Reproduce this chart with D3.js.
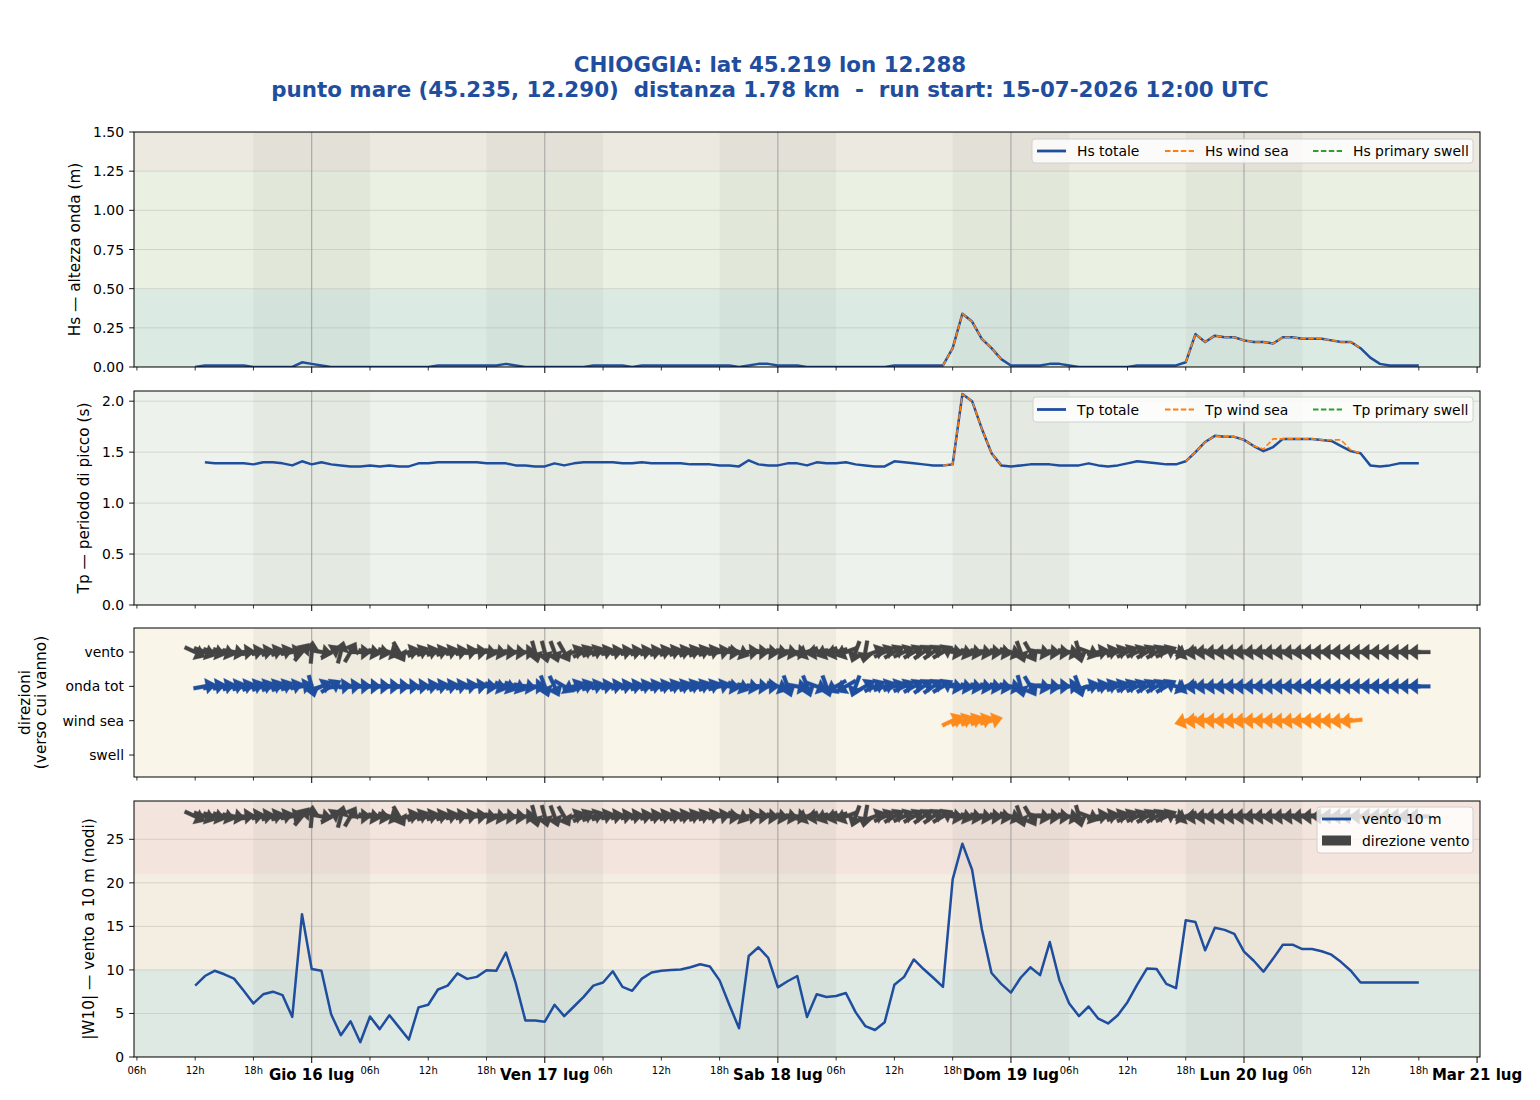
<!DOCTYPE html>
<html><head><meta charset="utf-8">
<script src="https://cdn.jsdelivr.net/npm/d3@7"></script>
<style>
body{margin:0;background:#fff}
svg{display:block}
text{font-family:"DejaVu Sans",sans-serif}
</style>
</head><body>
<svg id="chart" width="1540" height="1100"></svg>
<script>
// ---------------- DATA ----------------
const runStart = "2026-07-15T12:00:00Z";   // hourly series, index = hours since run start
const titleLines = ["CHIOGGIA: lat 45.219 lon 12.288",
  "punto mare (45.235, 12.290)  distanza 1.78 km  -  run start: 15-07-2026 12:00 UTC"];

const hsTot = [
 0.00,0.01,0.01,0.01,0.01,0.01,0.00,0.00,0.00,0.00,
 0.00,0.03,0.02,0.01,0.00,0.00,0.00,0.00,0.00,0.00,
 0.00,0.00,0.00,0.00,0.00,0.01,0.01,0.01,0.01,0.01,
 0.01,0.01,0.02,0.01,0.00,0.00,0.00,0.00,0.00,0.00,
 0.00,0.01,0.01,0.01,0.01,0.00,0.01,0.01,0.01,0.01,
 0.01,0.01,0.01,0.01,0.01,0.01,0.00,0.01,0.02,0.02,
 0.01,0.01,0.01,0.00,0.00,0.00,0.00,0.00,0.00,0.00,
 0.00,0.00,0.01,0.01,0.01,0.01,0.01,0.01,0.12,0.34,
 0.29,0.18,0.12,0.05,0.01,0.01,0.01,0.01,0.02,0.02,
 0.01,0.00,0.00,0.00,0.00,0.00,0.00,0.01,0.01,0.01,
 0.01,0.01,0.03,0.21,0.16,0.20,0.19,0.19,0.17,0.16,
 0.16,0.15,0.19,0.19,0.18,0.18,0.18,0.17,0.16,0.16,
 0.12,0.06,0.02,0.01,0.01,0.01,0.01];

const tpTot = [
 null,1.40,1.39,1.39,1.39,1.39,1.38,1.40,1.40,1.39,
 1.37,1.41,1.38,1.40,1.38,1.37,1.36,1.36,1.37,1.36,
 1.37,1.36,1.36,1.39,1.39,1.40,1.40,1.40,1.40,1.40,
 1.39,1.39,1.39,1.37,1.37,1.36,1.36,1.39,1.37,1.39,
 1.40,1.40,1.40,1.40,1.39,1.39,1.40,1.39,1.39,1.39,
 1.39,1.38,1.38,1.38,1.37,1.37,1.36,1.42,1.38,1.37,
 1.37,1.39,1.39,1.37,1.40,1.39,1.39,1.40,1.38,1.37,
 1.36,1.36,1.41,1.40,1.39,1.38,1.37,1.37,1.38,2.07,
 2.00,1.73,1.49,1.37,1.36,1.37,1.38,1.38,1.38,1.37,
 1.37,1.37,1.39,1.37,1.36,1.37,1.39,1.41,1.40,1.39,
 1.38,1.38,1.41,1.50,1.60,1.66,1.65,1.65,1.62,1.56,
 1.51,1.55,1.63,1.63,1.63,1.63,1.62,1.61,1.56,1.51,
 1.49,1.37,1.36,1.37,1.39,1.39,1.39];

// wind-sea component (only hours where present)
const wsHours   = [77,78,79,80,81,82,83,
  102,103,104,105,106,107,108,109,110,111,112,113,114,115,116,117,118,119,120];
const hsWindSea = [0.01,0.12,0.34,0.29,0.18,0.12,0.05,
  0.03,0.21,0.16,0.20,0.19,0.19,0.17,0.16,0.16,0.15,0.19,0.19,0.18,0.18,0.18,0.17,0.16,0.16,0.12];
const tpWindSea = [1.37,1.38,2.07,2.00,1.73,1.49,1.37,
  1.41,1.50,1.60,1.66,1.65,1.65,1.62,1.56,1.53,1.63,1.63,1.63,1.63,1.63,1.62,1.62,1.62,1.52,1.49];
const dirWindSea = [null,65,68,70,72,75,null,
  255,265,268,270,268,265,265,268,270,270,268,265,265,268,270,268,265,265,null];
// primary swell: no data in this run
const hsSwell = [];
const tpSwell = [];

// wind speed 10 m (knots)
const wind10 = [
 8.2,9.3,9.9,9.5,9.0,7.6,6.15,7.2,7.5,7.1,
 4.6,16.4,10.1,9.9,4.9,2.5,4.1,1.7,4.65,3.2,
 4.8,3.4,2.0,5.7,6.0,7.75,8.2,9.6,8.97,9.2,
 9.96,9.9,12.0,8.5,4.2,4.2,4.05,6.0,4.7,5.8,
 6.9,8.2,8.55,9.85,8.05,7.6,9.0,9.7,9.9,10.0,
 10.04,10.3,10.65,10.4,8.8,6.0,3.3,11.6,12.6,11.4,
 8.0,8.7,9.3,4.6,7.2,6.9,7.0,7.35,5.15,3.55,
 3.1,4.0,8.3,9.2,11.2,10.1,9.1,8.05,20.4,24.5,
 21.5,14.7,9.65,8.4,7.4,9.1,10.3,9.4,13.2,8.8,
 6.15,4.7,5.8,4.4,3.85,4.8,6.3,8.3,10.15,10.1,
 8.4,7.9,15.7,15.5,12.25,14.85,14.6,14.15,12.1,11.05,
 9.8,11.3,12.9,12.9,12.4,12.4,12.15,11.75,10.9,9.9,
 8.55,8.55,8.55,8.55,8.55,8.55,8.55];

// directions "verso cui vanno" (degrees, 0 = N, 90 = E)
const dirWind = [
 115,110,105,105,100,85,80,80,75,75,
 80,40,5,100,60,15,30,90,100,100,
 105,150,75,70,75,75,75,80,80,85,
 100,100,95,95,90,165,165,160,150,70,
 65,70,75,80,80,80,78,78,75,75,
 75,72,72,75,80,95,110,85,90,95,
 100,100,95,250,260,250,255,250,200,190,
 70,65,60,65,60,55,55,60,100,105,
 100,100,95,100,105,160,150,100,95,95,
 100,165,110,80,75,70,65,65,60,60,
 65,100,250,262,265,265,265,265,265,265,
 265,265,265,265,265,268,270,270,270,270,
 270,270,270,270,270,270,270];
const dirWave = [
 null,80,80,78,75,75,72,72,70,70,
 75,80,165,65,60,85,85,88,90,90,
 90,90,88,85,80,78,78,78,80,82,
 95,105,110,110,100,90,160,155,120,70,
 70,75,80,80,78,78,75,75,75,72,
 72,70,70,72,75,100,110,100,95,90,
 110,160,100,160,110,160,240,240,200,60,
 65,70,70,65,60,55,55,60,100,100,
 100,100,100,100,100,165,150,100,95,90,
 85,160,75,75,70,70,65,65,60,60,
 60,110,250,265,265,265,265,268,268,268,
 268,268,268,268,268,270,270,270,270,270,
 270,270,270,270,270,270,270];

const dirRows = ["vento","onda tot","wind sea","swell"];
const nights = [["2026-07-15T18:00:00Z","2026-07-16T06:00:00Z"],["2026-07-16T18:00:00Z","2026-07-17T06:00:00Z"],
  ["2026-07-17T18:00:00Z","2026-07-18T06:00:00Z"],["2026-07-18T18:00:00Z","2026-07-19T06:00:00Z"],
  ["2026-07-19T18:00:00Z","2026-07-20T06:00:00Z"]];
const dayLabels = ["Gio 16 lug","Ven 17 lug","Sab 18 lug","Dom 19 lug","Lun 20 lug","Mar 21 lug"];
const dayTicks = ["2026-07-16","2026-07-17","2026-07-18","2026-07-19","2026-07-20","2026-07-21"];
const hourLabels = ["06h","12h","18h"];
const hsTicks = [0,0.25,0.5,0.75,1.0,1.25,1.5];
const tpTicks = [0,0.5,1.0,1.5,2.0];
const windTicks = [0,5,10,15,20,25];

// ---------------- DRAW ----------------
const BLUE="#1f4e9e", ORANGE="#ff7f0e", GREEN="#2ca02c", DARK="#444444", ORANGE_A="#ff8a1c";
const svg = d3.select("#chart");
const X0=134, X1=1480;
const x = d3.scaleUtc().domain([new Date("2026-07-15T05:42:00Z"), new Date("2026-07-21T00:18:00Z")]).range([X0,X1]);
const t0 = Date.parse(runStart);
const T = i => new Date(t0 + i*3600e3);

svg.append("g").selectAll("text").data(titleLines).join("text")
  .attr("x",770).attr("y",(d,i)=>71.5+i*25).attr("text-anchor","middle")
  .attr("font-size",21.4).attr("font-weight","bold").attr("fill",BLUE)
  .style("white-space","pre").text(d=>d);

const panels = [
  {top:132,bottom:367,dom:[0,1.5],ticks:hsTicks,fmt:d3.format(".2f"),
   bands:[[0,0.5,"#dbebe4"],[0.5,1.25,"#eaf0e2"],[1.25,1.5,"#ece9e0"]]},
  {top:391,bottom:605,dom:[0,2.1],ticks:tpTicks,fmt:d3.format(".1f"),
   bands:[[0,2.1,"#edf3ec"]]},
  {top:628,bottom:777,dom:[-0.64,3.70],ticks:[3,2,1,0],fmt:(d,i)=>dirRows[i],
   bands:[[-0.64,3.70,"#f9f5e8"]]},
  {top:801,bottom:1057,dom:[0,29.4],ticks:windTicks,fmt:d3.format("d"),
   bands:[[0,10,"#dee9e3"],[10,21,"#f4ede2"],[21,29.4,"#f3e4dd"]]}
];

const defs = svg.append("defs");
panels.forEach((p,pi)=>{
  p.y = d3.scaleLinear().domain(p.dom).range([p.bottom,p.top]);
  defs.append("clipPath").attr("id","clip"+pi).append("rect")
    .attr("x",X0).attr("y",p.top).attr("width",X1-X0).attr("height",p.bottom-p.top);
  p.g = svg.append("g");
  p.plot = p.g.append("g").attr("clip-path",`url(#clip${pi})`);
  p.plot.selectAll("rect.band").data(p.bands).join("rect").attr("class","band")
    .attr("x",X0).attr("width",X1-X0)
    .attr("y",d=>p.y(d[1])).attr("height",d=>p.y(d[0])-p.y(d[1])).attr("fill",d=>d[2]);
  p.plot.selectAll("rect.night").data(nights).join("rect").attr("class","night")
    .attr("x",d=>x(new Date(d[0]))).attr("width",d=>x(new Date(d[1]))-x(new Date(d[0])))
    .attr("y",p.top).attr("height",p.bottom-p.top).attr("fill","#7a7a6a").attr("opacity",0.075);
  if(pi!==2){
    p.plot.selectAll("line.hg").data(p.ticks).join("line")
      .attr("x1",X0).attr("x2",X1).attr("y1",d=>p.y(d)).attr("y2",d=>p.y(d))
      .attr("stroke","#b8b8b0").attr("stroke-width",0.8).attr("opacity",0.6);
  }
  p.plot.selectAll("line.day").data(dayTicks.slice(0,5)).join("line")
    .attr("x1",d=>x(new Date(d+"T00:00:00Z"))).attr("x2",d=>x(new Date(d+"T00:00:00Z")))
    .attr("y1",p.top).attr("y2",p.bottom).attr("stroke","#9a9a9a").attr("stroke-width",0.9);
});

function drawLine(p, arr, hours, color, width, dash){
  const pts = arr.map((v,i)=>({h: hours ? hours[i] : i, v}));
  const line = d3.line().x(d=>x(T(d.h))).y(d=>p.y(d.v));
  const segs=[]; let cur=[];
  pts.forEach(d=>{
    if(d.v==null){ if(cur.length) segs.push(cur); cur=[]; return; }
    if(cur.length && d.h!==cur[cur.length-1].h+1){ segs.push(cur); cur=[]; }
    cur.push(d);
  });
  if(cur.length) segs.push(cur);
  p.plot.selectAll(null).data(segs).join("path")
    .attr("d",s=>line(s)).attr("fill","none").attr("stroke",color).attr("stroke-width",width)
    .attr("stroke-dasharray",dash||null).attr("stroke-linejoin","round");
}

const P1=panels[0],P2=panels[1],P3=panels[2],P4=panels[3];
const DASH="5.5,2.4";
drawLine(P1,hsTot,null,BLUE,2.5);
drawLine(P1,hsWindSea,wsHours,ORANGE,1.6,DASH);
drawLine(P1,hsSwell,[],GREEN,1.6,DASH);
drawLine(P2,tpTot,null,BLUE,2.5);
drawLine(P2,tpWindSea,wsHours,ORANGE,1.6,DASH);
drawLine(P2,tpSwell,[],GREEN,1.6,DASH);
drawLine(P4,wind10,null,BLUE,2.5);

// quiver-like arrows (pivot middle)
const AL=23, SW=1.9, HL=10.5, HW=8;
const arrowPts = [[-AL/2,-SW],[AL/2-HL,-SW],[AL/2-HL,-HW],[AL/2,0],[AL/2-HL,HW],[AL/2-HL,SW],[-AL/2,SW]].map(q=>q.join(",")).join(" ");
function drawArrows(p, dirs, hours, yval, color){
  const data = dirs.map((d,i)=>({h: hours?hours[i]:i, d})).filter(o=>o.d!=null);
  p.plot.append("g").selectAll("polygon").data(data).join("polygon")
    .attr("points",arrowPts)
    .attr("transform",o=>`translate(${x(T(o.h))},${p.y(yval)}) rotate(${o.d-90})`)
    .attr("fill",color).attr("stroke",color).attr("stroke-width",0.3);
}
drawArrows(P3,dirWind,null,3,DARK);
drawArrows(P3,dirWave,null,2,BLUE);
drawArrows(P3,dirWindSea,wsHours,1,ORANGE_A);
drawArrows(P4,dirWind,null,29.4*0.94,DARK);

panels.forEach((p,pi)=>{
  const g=p.g;
  g.append("rect").attr("x",X0).attr("y",p.top).attr("width",X1-X0).attr("height",p.bottom-p.top)
    .attr("fill","none").attr("stroke","#000").attr("stroke-width",1);
  g.selectAll("line.yt").data(p.ticks).join("line")
    .attr("x1",X0-4.9).attr("x2",X0).attr("y1",d=>p.y(d)).attr("y2",d=>p.y(d)).attr("stroke","#000").attr("stroke-width",0.9);
  g.selectAll("text.yl").data(p.ticks).join("text")
    .attr("x",X0-10).attr("y",d=>p.y(d)).attr("dy","0.36em").attr("text-anchor","end")
    .attr("font-size",13.9).attr("fill","#000").text((d,i)=>p.fmt(d,i));
  const minor = d3.utcHour.every(6).range(x.domain()[0], x.domain()[1]).filter(t=>t.getUTCHours()!==0);
  const major = dayTicks.map(d=>new Date(d+"T00:00:00Z"));
  g.selectAll("line.xmi").data(minor).join("line")
    .attr("x1",d=>x(d)).attr("x2",d=>x(d)).attr("y1",p.bottom).attr("y2",p.bottom+3.5).attr("stroke","#000").attr("stroke-width",0.8);
  g.selectAll("line.xma").data(major).join("line")
    .attr("x1",d=>x(d)).attr("x2",d=>x(d)).attr("y1",p.bottom).attr("y2",p.bottom+6).attr("stroke","#000").attr("stroke-width",1);
  if(pi===3){
    g.selectAll("text.xmi").data(minor).join("text")
      .attr("x",d=>x(d)).attr("y",p.bottom+17).attr("text-anchor","middle").attr("font-size",10)
      .text(d=>hourLabels[d.getUTCHours()/6-1]);
    g.selectAll("text.xma").data(major).join("text")
      .attr("x",d=>x(d)).attr("y",p.bottom+22.5).attr("text-anchor","middle").attr("font-size",15)
      .attr("font-weight","bold").text((d,i)=>dayLabels[i]);
  }
});

function ylab(xx, yy, txt){
  svg.append("text").attr("transform",`translate(${xx},${yy}) rotate(-90)`).attr("text-anchor","middle")
    .attr("font-size",15.3).attr("fill","#000").text(txt);
}
ylab(80,(P1.top+P1.bottom)/2,"Hs — altezza onda (m)");
ylab(89,(P2.top+P2.bottom)/2,"Tp — periodo di picco (s)");
ylab(30,(P3.top+P3.bottom)/2,"direzioni");
ylab(46,(P3.top+P3.bottom)/2,"(verso cui vanno)");
ylab(94,(P4.top+P4.bottom)/2,"|W10| — vento a 10 m (nodi)");

function legendBox(x0,y0,w,h){
  svg.append("rect").attr("x",x0).attr("y",y0).attr("width",w).attr("height",h).attr("rx",3)
    .attr("fill","#fff").attr("fill-opacity",0.8).attr("stroke","#d0d0d0").attr("stroke-width",1);
}
function legendLine(x0,y0,color,width,dash,label){
  svg.append("line").attr("x1",x0).attr("x2",x0+29).attr("y1",y0).attr("y2",y0)
    .attr("stroke",color).attr("stroke-width",width).attr("stroke-dasharray",dash||null);
  svg.append("text").attr("x",x0+40).attr("y",y0).attr("dy","0.36em").attr("font-size",13.9).text(label);
}
legendBox(1032,139,441,24);
legendLine(1037,151,BLUE,2.8,null,"Hs totale");
legendLine(1165,151,ORANGE,1.8,DASH,"Hs wind sea");
legendLine(1313,151,GREEN,1.8,DASH,"Hs primary swell");
legendBox(1033,397,440,25);
legendLine(1037,409.5,BLUE,2.8,null,"Tp totale");
legendLine(1165,409.5,ORANGE,1.8,DASH,"Tp wind sea");
legendLine(1313,409.5,GREEN,1.8,DASH,"Tp primary swell");
legendBox(1317,807,156,46);
legendLine(1322,819,BLUE,2.8,null,"vento 10 m");
svg.append("rect").attr("x",1322).attr("y",835.5).attr("width",29).attr("height",10).attr("fill",DARK);
svg.append("text").attr("x",1362).attr("y",840.5).attr("dy","0.36em").attr("font-size",13.9).text("direzione vento");
</script>
</body></html>
